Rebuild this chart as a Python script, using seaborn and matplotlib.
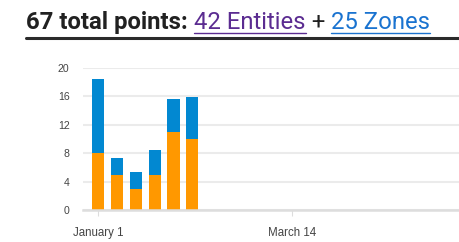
import matplotlib
matplotlib.use("Agg")
import matplotlib.pyplot as plt
import seaborn as sns
import pandas as pd
from matplotlib.lines import Line2D

# Data (weekly bars, days offset from January 1)
days = [0, 7, 14, 21, 28, 35]
entities = [8, 5, 3, 5, 11, 10]          # orange
zones = [10.5, 2.3, 2.3, 3.5, 4.7, 5.9]   # blue
tick_days = [0, 72]
tick_labels = ["January 1", "March 14"]
yticks = [0, 4, 8, 12, 16, 20]

title_main = "67 total points: "
title_ent = "42 Entities"
title_plus = " + "
title_zone = "25 Zones"

ORANGE = "#ff9800"
BLUE = "#0288d1"

sns.set_theme(style="white")
plt.rcParams["font.family"] = ["Liberation Sans", "DejaVu Sans"]

totals = [e + z for e, z in zip(entities, zones)]
df = pd.DataFrame({"day": days, "entities": entities, "total": totals})

fig = plt.figure(figsize=(4.59, 2.42), dpi=100)
ax = fig.add_axes([83 / 459, 1 - 210 / 242, 1 - 83 / 459, 142 / 242])

sns.barplot(data=df, x="day", y="total", native_scale=True, color=BLUE,
            saturation=1, width=0.65, ax=ax, edgecolor="none", zorder=3)
sns.barplot(data=df, x="day", y="entities", native_scale=True, color=ORANGE,
            saturation=1, width=0.65, ax=ax, edgecolor="none", zorder=4)

ax.set_xlim(-5.7, 134.3)
ax.set_ylim(0, 20)
ax.set_yticks(yticks)
ax.set_yticklabels([str(v) for v in yticks])
ax.set_xticks(tick_days)
ax.set_xticklabels(tick_labels)
ax.set_xlabel("")
ax.set_ylabel("")
for s in ["top", "right", "left"]:
    ax.spines[s].set_visible(False)
ax.spines["bottom"].set_color("#dddddd")
ax.spines["bottom"].set_linewidth(1.8)
ax.spines["bottom"].set_zorder(5)
ax.yaxis.grid(True, color="#ebebeb", linewidth=1.5, zorder=0)
ax.set_axisbelow(True)
ax.tick_params(axis="y", length=0, pad=9.7, labelsize=7.6, labelcolor="#444444")
ax.tick_params(axis="x", length=4, width=0.8, color="#dddddd", pad=8,
               labelsize=8.3, labelcolor="#444444", bottom=True)

# Title with coloured, underlined parts
fig.canvas.draw()
renderer = fig.canvas.get_renderer()
x = 26.5
y_base = 242 - 29
parts = [(title_main, "#212121", "bold", False),
         (title_ent, "#5b2c91", "normal", True),
         (title_plus, "#212121", "normal", False),
         (title_zone, "#1a73d0", "normal", True)]
for text, col, weight, ul in parts:
    t = fig.text(x / 459, y_base / 242, text, color=col, fontsize=17.2,
                 fontweight=weight, family=["Roboto", "DejaVu Sans"],
                 ha="left", va="baseline")
    bb = t.get_window_extent(renderer=renderer)
    if ul:
        fig.add_artist(Line2D([x / 459, (x + bb.width) / 459],
                              [(242 - 33) / 242] * 2, color=col, linewidth=1.0))
    x += bb.width

fig.add_artist(Line2D([26 / 459, 1.0], [(242 - 38) / 242] * 2,
                      color="#2b2b2b", linewidth=2.2))

fig.savefig("out.png", dpi=100)
